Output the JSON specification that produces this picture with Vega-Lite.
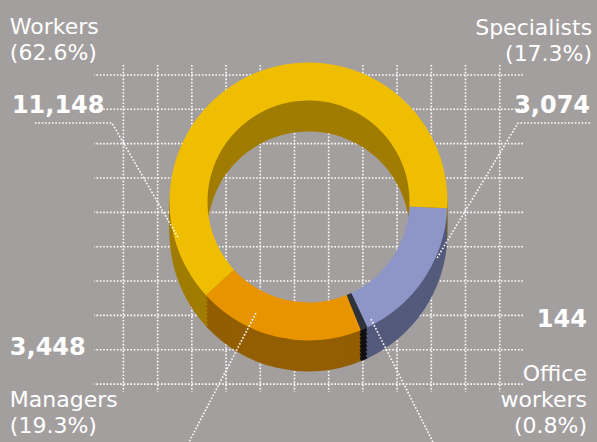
{
  "$schema": "https://vega.github.io/schema/vega-lite/v6.json",
  "width": 429,
  "height": 327,
  "autosize": {"type": "none"},
  "padding": {"left": 94, "top": 65, "right": 74, "bottom": 50},
  "background": "#A49F9F",
  "config": {"view": {"stroke": null}},
  "datasets": {
    "slices": [
      {"cat": "Specialists", "value": 3074, "order": 1},
      {"cat": "Office workers", "value": 144, "order": 2},
      {"cat": "Managers", "value": 3448, "order": 3},
      {"cat": "Workers", "value": 11148, "order": 4}
    ],
    "gridx": [{"g": 0}, {"g": 1}, {"g": 2}, {"g": 3}, {"g": 4}, {"g": 5}, {"g": 6}, {"g": 7}, {"g": 8}, {"g": 9}, {"g": 10}, {"g": 11}],
    "gridy": [{"g": 0}, {"g": 1}, {"g": 2}, {"g": 3}, {"g": 4}, {"g": 5}, {"g": 6}, {"g": 7}, {"g": 8}, {"g": 9}],
    "labels": [
      {"t": "Workers\n(62.6%)", "x": -3.32, "y": 10.2, "side": "L", "kind": "name"},
      {"t": "Specialists\n(17.3%)", "x": 13.7, "y": 10.17, "side": "R", "kind": "name"},
      {"t": "Managers\n(19.3%)", "x": -3.32, "y": -0.67, "side": "L", "kind": "name"},
      {"t": "Office\nworkers\n(0.8%)", "x": 13.55, "y": 0.09, "side": "R", "kind": "name"},
      {"t": "11,148", "x": -3.26, "y": 7.89, "side": "L", "kind": "num"},
      {"t": "3,074", "x": 13.64, "y": 7.89, "side": "R", "kind": "num"},
      {"t": "3,448", "x": -3.32, "y": 0.845, "side": "L", "kind": "num"},
      {"t": "144", "x": 13.55, "y": 1.66, "side": "R", "kind": "num"}
    ],
    "leaders": [
      {"id": "Workers", "p": 1, "x": -2.588, "y": 7.603},
      {"id": "Workers", "p": 2, "x": -0.336, "y": 7.603},
      {"id": "Workers", "p": 3, "x": 1.623, "y": 4.224},
      {"id": "Specialists", "p": 1, "x": 13.64, "y": 7.603},
      {"id": "Specialists", "p": 2, "x": 11.535, "y": 7.603},
      {"id": "Specialists", "p": 3, "x": 9.167, "y": 3.67},
      {"id": "Managers", "p": 1, "x": 3.874, "y": 2.068},
      {"id": "Managers", "p": 2, "x": 1.915, "y": -1.689},
      {"id": "Office", "p": 1, "x": 7.237, "y": 1.893},
      {"id": "Office", "p": 2, "x": 9.05, "y": -1.689}
    ]
  },
  "layer": [
    {
      "data": {"name": "gridx"},
      "mark": {"type": "rule", "color": "#FFFFFF", "strokeWidth": 1.6, "strokeDash": [1.6, 1.8]},
      "encoding": {
        "x": {"field": "g", "type": "quantitative", "scale": {"domain": [-0.86, 11.68], "nice": false, "zero": false}, "axis": null}
      }
    },
    {
      "data": {"name": "gridy"},
      "mark": {"type": "rule", "color": "#FFFFFF", "strokeWidth": 1.6, "strokeDash": [1.6, 1.8]},
      "encoding": {
        "y": {"field": "g", "type": "quantitative", "scale": {"domain": [-0.23, 9.29], "nice": false, "zero": false}, "axis": null}
      }
    },
    {
      "data": {"name": "slices"},
      "layer": [
        {"mark": {"type": "arc", "innerRadius": 101, "outerRadius": 139, "yOffset": 4}},
        {"mark": {"type": "arc", "innerRadius": 101, "outerRadius": 139, "yOffset": 0}},
        {"mark": {"type": "arc", "innerRadius": 101, "outerRadius": 139, "yOffset": -4}},
        {"mark": {"type": "arc", "innerRadius": 101, "outerRadius": 139, "yOffset": -8}},
        {"mark": {"type": "arc", "innerRadius": 101, "outerRadius": 139, "yOffset": -12}},
        {"mark": {"type": "arc", "innerRadius": 101, "outerRadius": 139, "yOffset": -16}},
        {"mark": {"type": "arc", "innerRadius": 101, "outerRadius": 139, "yOffset": -20}},
        {"mark": {"type": "arc", "innerRadius": 101, "outerRadius": 139, "yOffset": -24}}
      ],
      "encoding": {
        "theta": {"field": "value", "type": "quantitative", "stack": true, "scale": {"range": [1.62, 7.9032]}},
        "order": {"field": "order", "type": "quantitative"},
        "color": {"field": "cat", "type": "nominal", "legend": null,
          "scale": {"domain": ["Specialists", "Office workers", "Managers", "Workers"], "range": ["#535A7B", "#0F1012", "#925E00", "#A07C00"]}}
      }
    },
    {
      "data": {"name": "slices"},
      "mark": {"type": "arc", "innerRadius": 101, "outerRadius": 139, "yOffset": -27},
      "encoding": {
        "theta": {"field": "value", "type": "quantitative", "stack": true, "scale": {"range": [1.62, 7.9032]}},
        "order": {"field": "order", "type": "quantitative"},
        "fill": {"field": "cat", "type": "nominal", "legend": null,
          "scale": {"domain": ["Specialists", "Office workers", "Managers", "Workers"], "range": ["#8E96C8", "#2E333B", "#E89400", "#F0BE00"]}}
      }
    },
    {
      "data": {"name": "leaders"},
      "mark": {"type": "line", "color": "#FFFFFF", "strokeWidth": 1.6, "strokeDash": [1.6, 1.8]},
      "encoding": {
        "x": {"field": "x", "type": "quantitative"},
        "y": {"field": "y", "type": "quantitative"},
        "detail": {"field": "id"},
        "order": {"field": "p", "type": "quantitative"}
      }
    },
    {
      "data": {"name": "labels"},
      "transform": [{"filter": "datum.kind === 'name' && datum.side === 'L'"}],
      "mark": {"type": "text", "align": "left", "baseline": "alphabetic", "lineBreak": "\n", "lineHeight": 26, "font": "DejaVu Sans", "fontSize": 22, "color": "#FFFFFF"},
      "encoding": {"x": {"field": "x", "type": "quantitative"}, "y": {"field": "y", "type": "quantitative"}, "text": {"field": "t"}}
    },
    {
      "data": {"name": "labels"},
      "transform": [{"filter": "datum.kind === 'name' && datum.side === 'R'"}],
      "mark": {"type": "text", "align": "right", "baseline": "alphabetic", "lineBreak": "\n", "lineHeight": 26, "font": "DejaVu Sans", "fontSize": 22, "color": "#FFFFFF"},
      "encoding": {"x": {"field": "x", "type": "quantitative"}, "y": {"field": "y", "type": "quantitative"}, "text": {"field": "t"}}
    },
    {
      "data": {"name": "labels"},
      "transform": [{"filter": "datum.kind === 'num' && datum.side === 'L'"}],
      "mark": {"type": "text", "align": "left", "baseline": "alphabetic", "font": "DejaVu Sans", "fontWeight": "bold", "fontSize": 24, "color": "#FFFFFF"},
      "encoding": {"x": {"field": "x", "type": "quantitative"}, "y": {"field": "y", "type": "quantitative"}, "text": {"field": "t"}}
    },
    {
      "data": {"name": "labels"},
      "transform": [{"filter": "datum.kind === 'num' && datum.side === 'R'"}],
      "mark": {"type": "text", "align": "right", "baseline": "alphabetic", "font": "DejaVu Sans", "fontWeight": "bold", "fontSize": 24, "color": "#FFFFFF"},
      "encoding": {"x": {"field": "x", "type": "quantitative"}, "y": {"field": "y", "type": "quantitative"}, "text": {"field": "t"}}
    }
  ],
  "resolve": {"scale": {"color": "independent", "fill": "independent"}}
}
